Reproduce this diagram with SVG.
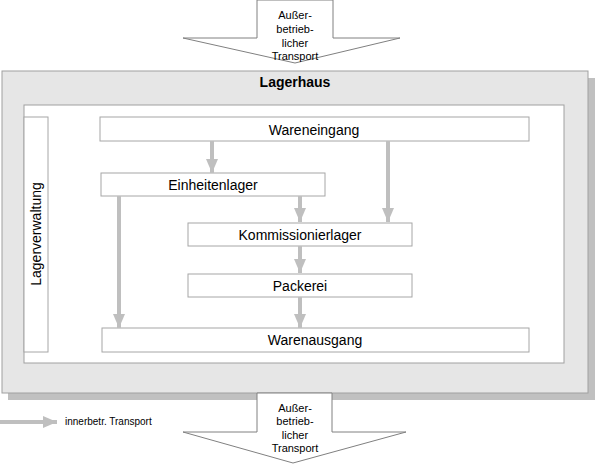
<svg xmlns="http://www.w3.org/2000/svg" width="595" height="464" viewBox="0 0 595 464">
<style>
text{font-family:"Liberation Sans",Arial,sans-serif;fill:#000}
.box{fill:#fff;stroke:#a6a6a6;stroke-width:1}
.lbl{font-size:14px;text-anchor:middle}
.sm{font-size:11px;text-anchor:middle}
.conn{stroke:#bfbfbf;stroke-width:4;fill:none}
.ah{fill:#bfbfbf}
.big{fill:#fff;stroke:#808080;stroke-width:1}
</style>
<defs>
<marker id="arr" markerUnits="userSpaceOnUse" markerWidth="14" markerHeight="14" viewBox="0 0 14 14" refX="14" refY="7" orient="auto">
<path d="M0,1 L14,7 L0,13 Z" class="ah"/>
</marker>
</defs>
<g id="lagerhaus">
<rect x="8" y="78" width="587" height="322" fill="#c0c0c0"/>
<rect x="2" y="71" width="586" height="322" fill="#e6e6e6" stroke="#a0a0a0"/>
<rect x="24" y="105" width="540" height="258" fill="#fff" stroke="#a0a0a0"/>
<text x="295" y="87" font-size="14" font-weight="bold" text-anchor="middle">Lagerhaus</text>
</g>
<g id="lagerverwaltung">
<rect x="24" y="117" width="24" height="235" class="box"/>
<text class="lbl" transform="translate(41,234) rotate(-90)">Lagerverwaltung</text>
</g>
<g id="wareneingang">
<rect x="100" y="117" width="429" height="24" class="box"/>
<text x="314" y="135" class="lbl">Wareneingang</text>
</g>
<g id="einheitenlager">
<rect x="101" y="173" width="224" height="23" class="box"/>
<text x="213" y="190" class="lbl">Einheitenlager</text>
</g>
<g id="kommissionierlager">
<rect x="188" y="223" width="224" height="23" class="box"/>
<text x="300" y="240" class="lbl">Kommissionierlager</text>
</g>
<g id="packerei">
<rect x="188" y="274" width="224" height="23" class="box"/>
<text x="300" y="291" class="lbl">Packerei</text>
</g>
<g id="warenausgang">
<rect x="102" y="328" width="427" height="24" class="box"/>
<text x="315" y="345" class="lbl">Warenausgang</text>
</g>
<g id="connectors">
<line x1="212" y1="141" x2="212" y2="173" class="conn" marker-end="url(#arr)"/>
<line x1="388" y1="141" x2="388" y2="222" class="conn" marker-end="url(#arr)"/>
<line x1="300" y1="196" x2="300" y2="222" class="conn" marker-end="url(#arr)"/>
<line x1="119" y1="196" x2="119" y2="328" class="conn" marker-end="url(#arr)"/>
<line x1="300" y1="246" x2="300" y2="273" class="conn" marker-end="url(#arr)"/>
<line x1="300" y1="297" x2="300" y2="328" class="conn" marker-end="url(#arr)"/>
<line x1="0" y1="422" x2="57" y2="422" class="conn" marker-end="url(#arr)"/>
</g>
<g id="legend">
<text x="65" y="425" font-size="10">innerbetr. Transport</text>
</g>
<g id="transport-in">
<path d="M257,0 L333,0 L333,38 L400,38 L295,63 L183,38 L257,38 Z" class="big"/>
<text x="295" y="19" class="sm">Außer-</text>
<text x="295" y="33" class="sm">betrieb-</text>
<text x="295" y="47" class="sm">licher</text>
<text x="295" y="60" class="sm">Transport</text>
</g>
<g id="transport-out">
<path d="M257,393 L332,393 L332,432 L406,432 L293,463 L183,432 L257,432 Z" class="big"/>
<text x="295" y="412" class="sm">Außer-</text>
<text x="295" y="425" class="sm">betrieb-</text>
<text x="295" y="439" class="sm">licher</text>
<text x="295" y="452" class="sm">Transport</text>
</g>
</svg>
